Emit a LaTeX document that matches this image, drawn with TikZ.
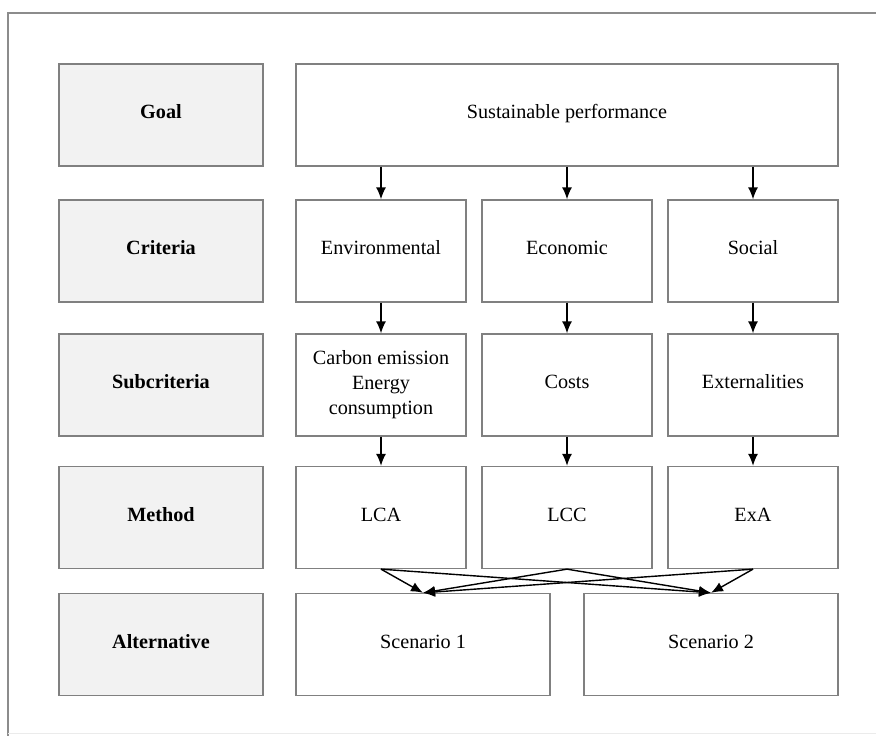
\documentclass[tikz,border=0pt]{standalone}
\usepackage{fontspec}
\setmainfont{Liberation Serif}
\usetikzlibrary{arrows.meta}
\definecolor{boxgray}{HTML}{808080}
\definecolor{framegray}{HTML}{8C8C8C}
\definecolor{labelfill}{HTML}{F2F2F2}
\begin{document}
\begin{tikzpicture}[x=1pt,y=-1pt,
  box/.style={draw=boxgray,line width=1.3pt,inner sep=0pt,align=center,
    font=\fontsize{20.2}{25}\selectfont,minimum height=102pt,
    text height=12pt,text depth=5pt},
  lab/.style={box,fill=labelfill,font=\fontsize{20.2}{25}\selectfont\bfseries,minimum width=204pt},
  col/.style={box,minimum width=170pt},
  arr/.style={line width=1.4pt,-{Latex[length=12pt,width=10pt]}}]
\useasboundingbox (0,0) rectangle (876,736);
% outer frame
\draw[framegray,line width=1.2pt] (8,740) -- (8,13) -- (880,13);
\draw[black!8,line width=1pt] (8,733) -- (880,733);
% left labels
\node[lab] (goal) at (161,115) {Goal};
\node[lab] (crit) at (161,251) {Criteria};
\node[lab] (subc) at (161,385) {Subcriteria};
\node[lab] (meth) at (161,517.5) {Method};
\node[lab] (alt)  at (161,644.5) {Alternative};
% goal
\node[box,minimum width=542pt] (sus) at (567,115) {Sustainable performance};
% criteria
\node[col] (env) at (381,251) {Environmental};
\node[col] (eco) at (567,251) {Economic};
\node[col] (soc) at (753,251) {Social};
% subcriteria
\node[col,text height=,text depth=] (carb) at (381,385) {Carbon emission\\Energy\\consumption};
\node[col] (cost) at (567,385) {Costs};
\node[col] (ext)  at (753,385) {Externalities};
% methods
\node[col] (lca) at (381,517.5) {LCA};
\node[col] (lcc) at (567,517.5) {LCC};
\node[col] (exa) at (753,517.5) {ExA};
% alternatives
\node[box,minimum width=254pt] (s1) at (423,644.5) {Scenario 1};
\node[box,minimum width=254pt] (s2) at (711,644.5) {Scenario 2};
% arrows
\draw[arr] (sus.south -| env.north) -- (env.north);
\draw[arr] (sus.south -| eco.north) -- (eco.north);
\draw[arr] (sus.south -| soc.north) -- (soc.north);
\draw[arr] (env.south) -- (carb.north);
\draw[arr] (eco.south) -- (cost.north);
\draw[arr] (soc.south) -- (ext.north);
\draw[arr] (carb.south) -- (lca.north);
\draw[arr] (cost.south) -- (lcc.north);
\draw[arr] (ext.south) -- (exa.north);
\draw[arr] (lca.south) -- (s1.north);
\draw[arr] (lca.south) -- (s2.north);
\draw[arr] (lcc.south) -- (s1.north);
\draw[arr] (lcc.south) -- (s2.north);
\draw[arr] (exa.south) -- (s1.north);
\draw[arr] (exa.south) -- (s2.north);
\end{tikzpicture}
\end{document}
